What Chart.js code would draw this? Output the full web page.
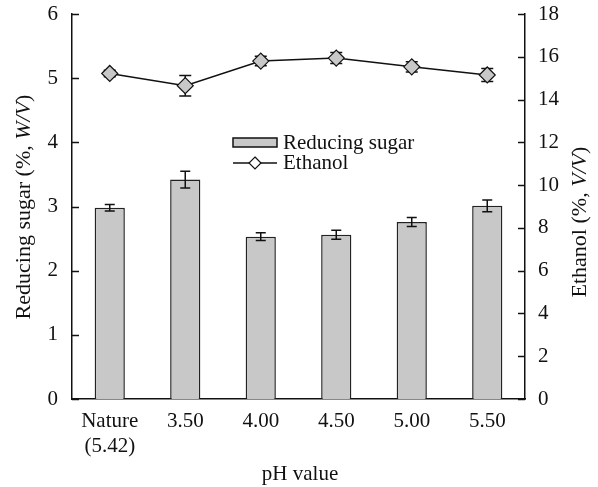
<!DOCTYPE html>
<html>
<head>
<meta charset="utf-8">
<script src="https://cdn.jsdelivr.net/npm/chart.js@4.4.1/dist/chart.umd.min.js"></script>
<style>
  html, body { margin: 0; padding: 0; background: #fff; }
  #wrap { width: 598px; height: 487px; }
</style>
</head>
<body>
<div id="wrap"><canvas id="chart" width="598" height="487"></canvas></div>
<script>
// Data
const categories = [['Nature', '(5.42)'], '3.50', '4.00', '4.50', '5.00', '5.50'];
const sugar = [2.98, 3.42, 2.53, 2.56, 2.76, 3.01];
const sugarErr = [0.05, 0.13, 0.06, 0.07, 0.07, 0.09];
const ethanol = [15.22, 14.65, 15.8, 15.94, 15.53, 15.15];
const ethanolErr = [0.15, 0.48, 0.22, 0.26, 0.24, 0.3];
const leftTicks = [0, 1, 2, 3, 4, 5, 6];
const rightTicks = [0, 2, 4, 6, 8, 10, 12, 14, 16, 18];

const FONT = '"Liberation Serif", "Times New Roman", serif';
const FILL = '#c8c8c8';

// Error bars, inward tick marks, legend and mixed-style axis titles
const extras = {
  id: 'extras',
  afterDatasetDraw(chart, args) {
    if (args.index !== 0) return;
    const ctx = chart.ctx;
    const meta = chart.getDatasetMeta(0);
    const y = chart.scales.y;
    ctx.save();
    ctx.strokeStyle = '#111';
    ctx.lineWidth = 1.5;
    meta.data.forEach((bar, i) => {
      const top = y.getPixelForValue(sugar[i] + sugarErr[i]);
      const bot = y.getPixelForValue(sugar[i] - sugarErr[i]);
      ctx.beginPath();
      ctx.moveTo(bar.x, top); ctx.lineTo(bar.x, bot);
      ctx.moveTo(bar.x - 5, top); ctx.lineTo(bar.x + 5, top);
      ctx.moveTo(bar.x - 5, bot); ctx.lineTo(bar.x + 5, bot);
      ctx.stroke();
    });
    ctx.restore();
  },
  beforeDatasetDraw(chart, args) {
    if (args.index !== 1) return;
    const ctx = chart.ctx;
    const meta = chart.getDatasetMeta(1);
    const y2 = chart.scales.y2;
    ctx.save();
    ctx.strokeStyle = '#111';
    ctx.lineWidth = 1.5;
    meta.data.forEach((pt, i) => {
      const top = y2.getPixelForValue(ethanol[i] + ethanolErr[i]);
      const bot = y2.getPixelForValue(ethanol[i] - ethanolErr[i]);
      ctx.beginPath();
      ctx.moveTo(pt.x, top); ctx.lineTo(pt.x, bot);
      ctx.moveTo(pt.x - 6, top); ctx.lineTo(pt.x + 6, top);
      ctx.moveTo(pt.x - 6, bot); ctx.lineTo(pt.x + 6, bot);
      ctx.stroke();
    });
    ctx.restore();
  },
  afterDraw(chart) {
    const ctx = chart.ctx;
    const a = chart.chartArea;
    const y = chart.scales.y, y2 = chart.scales.y2;
    ctx.save();
    ctx.strokeStyle = '#111';
    ctx.lineWidth = 1.5;
    ctx.beginPath();
    y.ticks.forEach(t => {
      const p = Math.round(y.getPixelForValue(t.value)) + 0.5;
      ctx.moveTo(a.left, p); ctx.lineTo(a.left + 7, p);
    });
    y2.ticks.forEach(t => {
      const p = Math.round(y2.getPixelForValue(t.value)) + 0.5;
      ctx.moveTo(a.right, p); ctx.lineTo(a.right - 7, p);
    });
    ctx.stroke();

    // legend
    ctx.fillStyle = FILL;
    ctx.fillRect(233, 138, 44, 9);
    ctx.strokeRect(233, 138, 44, 9);
    ctx.beginPath();
    ctx.moveTo(233, 163); ctx.lineTo(277, 163);
    ctx.stroke();
    ctx.beginPath();
    ctx.moveTo(255, 157); ctx.lineTo(261, 163); ctx.lineTo(255, 169); ctx.lineTo(249, 163);
    ctx.closePath();
    ctx.fillStyle = '#fff';
    ctx.fill();
    ctx.lineWidth = 1.2;
    ctx.stroke();
    ctx.fillStyle = '#111';
    ctx.font = '21px ' + FONT;
    ctx.textBaseline = 'middle';
    ctx.textAlign = 'left';
    ctx.fillText('Reducing sugar', 283, 143);
    ctx.fillText('Ethanol', 283, 163);

    // axis titles with italic part
    const title = (x, yc, parts) => {
      ctx.save();
      ctx.translate(x, yc);
      ctx.rotate(-Math.PI / 2);
      let w = 0;
      parts.forEach(p => { ctx.font = (p[1] ? 'italic ' : '') + '22px ' + FONT; w += ctx.measureText(p[0]).width; });
      let cx = -w / 2;
      parts.forEach(p => {
        ctx.font = (p[1] ? 'italic ' : '') + '22px ' + FONT;
        ctx.fillText(p[0], cx, 0);
        cx += ctx.measureText(p[0]).width;
      });
      ctx.restore();
    };
    title(24, 207, [['Reducing sugar (%, ', false], ['W/V', true], [')', false]]);
    title(580, 222, [['Ethanol (%, ', false], ['V/V', true], [')', false]]);

    ctx.font = '21px ' + FONT;
    ctx.textAlign = 'center';
    ctx.fillText('pH value', 300, 474);
    ctx.restore();
  }
};

const noPad = s => { s.paddingTop = 0; s.paddingBottom = 0; };

new Chart(document.getElementById('chart'), {
  data: {
    labels: categories,
    datasets: [
      {
        type: 'bar',
        label: 'Reducing sugar',
        data: sugar,
        yAxisID: 'y',
        backgroundColor: FILL,
        borderColor: '#222',
        borderWidth: 1.5,
        barPercentage: 0.4,
        categoryPercentage: 1,
        order: 2
      },
      {
        type: 'line',
        label: 'Ethanol',
        data: ethanol,
        yAxisID: 'y2',
        borderColor: '#111',
        borderWidth: 1.5,
        pointStyle: 'rectRot',
        pointRadius: 8,
        pointBackgroundColor: FILL,
        pointBorderColor: '#111',
        pointBorderWidth: 1.2,
        tension: 0,
        order: 1
      }
    ]
  },
  options: {
    responsive: false,
    animation: false,
    layout: { padding: { top: 14, left: 0, right: 0, bottom: 0 } },
    plugins: { legend: { display: false }, tooltip: { enabled: false } },
    scales: {
      x: {
        grid: { display: false, drawTicks: false },
        border: { color: '#111', width: 1.5 },
        ticks: { color: '#111', font: { family: FONT, size: 21 }, padding: 10, maxRotation: 0 },
        afterFit(s) { s.height = 88; s.paddingLeft = 0; s.paddingRight = 0; }
      },
      y: {
        position: 'left',
        min: 0, max: 6,
        afterBuildTicks(s) { s.ticks = leftTicks.map(v => ({ value: v })); },
        grid: { display: false, drawTicks: false },
        border: { color: '#111', width: 1.5 },
        ticks: { color: '#111', font: { family: FONT, size: 21 }, padding: 14 },
        afterFit(s) { s.width = 72; noPad(s); }
      },
      y2: {
        position: 'right',
        min: 0, max: 18,
        afterBuildTicks(s) { s.ticks = rightTicks.map(v => ({ value: v })); },
        grid: { display: false, drawTicks: false },
        border: { color: '#111', width: 1.5 },
        ticks: { color: '#111', font: { family: FONT, size: 21 }, padding: 13 },
        afterFit(s) { s.width = 73; noPad(s); }
      }
    }
  },
  plugins: [extras]
});
</script>
</body>
</html>
